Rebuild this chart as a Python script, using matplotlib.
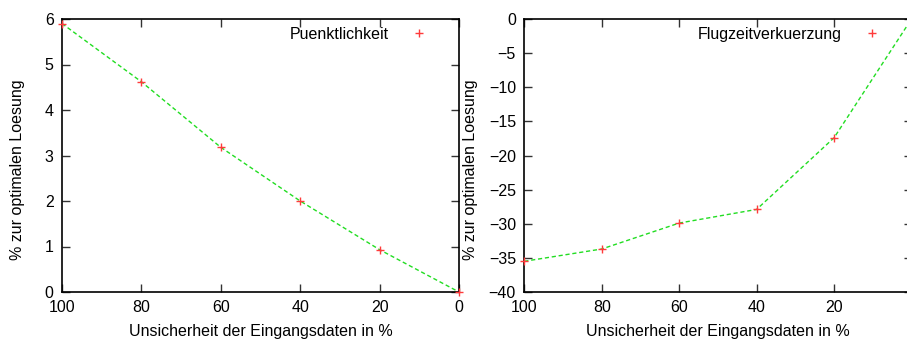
import matplotlib
matplotlib.use("Agg")
import matplotlib.pyplot as plt

plt.rcParams['font.family'] = ['Liberation Sans', 'DejaVu Sans']

x_vals = [100, 80, 60, 40, 20, 0]
puenkt = [5.9, 4.62, 3.18, 2.0, 0.93, 0.0]
flugzeit = [-35.5, -33.7, -29.9, -27.9, -17.4, 0.0]

left_yticks = [0, 1, 2, 3, 4, 5, 6]
right_yticks = [-40, -35, -30, -25, -20, -15, -10, -5, 0]
left_xticks = [100, 80, 60, 40, 20, 0]
right_xticks = [100, 80, 60, 40, 20]

xlabel = "Unsicherheit der Eingangsdaten in %"
ylabel = "% zur optimalen Loesung"

W, H = 907, 340
fig = plt.figure(figsize=(W / 100, H / 100), dpi=100)

fs = 11.5
green = '#22dd22'
red = '#ff3b3b'

def setup(ax, xt, yt, ylim, ylab_x):
    ax.set_xlim(100, 0)
    ax.set_ylim(*ylim)
    ax.set_xticks(xt)
    ax.set_yticks(yt)
    ax.tick_params(direction='in', length=6, width=1, top=True, right=True,
                   labelsize=fs, pad=6, color='#333333')
    for s in ax.spines.values():
        s.set_linewidth(1.2)
    ax.set_xlabel(xlabel, fontsize=fs, labelpad=6)
    ax.set_ylabel(ylabel, fontsize=fs)
    ax.yaxis.set_label_coords(ylab_x / W, 0.5, transform=fig.transFigure)

ax1 = fig.add_axes([62 / W, 48 / H, 397 / W, 273 / H])
ax1.plot(x_vals, puenkt, color=green, lw=1, dashes=(3, 2), clip_on=False, zorder=2)
ax1.plot(x_vals, puenkt, '+', color=red, ms=6, mew=1, clip_on=False, zorder=3,
         label='Puenktlichkeit')
setup(ax1, left_xticks, left_yticks, (0, 6), 25)

ax2 = fig.add_axes([524.3 / W, 48 / H, 387.2 / W, 273 / H])
ax2.plot(x_vals, flugzeit, color=green, lw=1, dashes=(3, 2), clip_on=False, zorder=2)
ax2.plot(x_vals, flugzeit, '+', color=red, ms=6, mew=1, clip_on=False, zorder=3,
         label='Flugzeitverkuerzung')
setup(ax2, right_xticks, right_yticks, (-40, 0), 478)

for ax in (ax1, ax2):
    leg = ax.legend(loc='upper right', frameon=False, fontsize=fs, markerfirst=False,
                    handlelength=1.5, handletextpad=1.15, borderaxespad=0.1,
                    bbox_to_anchor=(0.95, 1.0))

fig.savefig('out.png', dpi=100)
